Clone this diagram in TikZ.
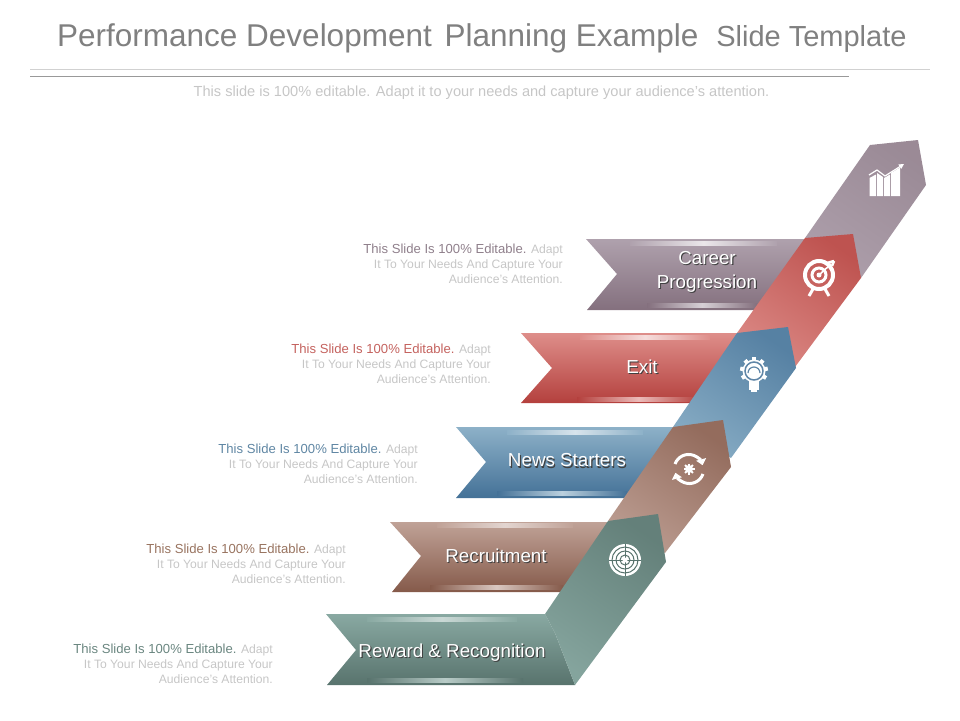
\documentclass[tikz,border=0pt]{standalone}
\usepackage{fontspec}
\setmainfont{Liberation Sans}
\usetikzlibrary{arrows.meta}
\definecolor{titlegray}{HTML}{808080}
\definecolor{paletext}{HTML}{C6C6C6}
\definecolor{mauvetop}{HTML}{AFA1AD}\definecolor{mauvelow}{HTML}{84707E}\definecolor{mauvehead}{HTML}{94838F}\definecolor{mauvetxt}{HTML}{8F7F8B}
\definecolor{redtop}{HTML}{DE8E8A}\definecolor{redlow}{HTML}{B4403D}\definecolor{redtxt}{HTML}{C4625E}
\definecolor{bluetop}{HTML}{8DB1C8}\definecolor{bluelow}{HTML}{447197}\definecolor{bluetxt}{HTML}{5F86A3}
\definecolor{browntop}{HTML}{C0A297}\definecolor{brownlow}{HTML}{855A4A}\definecolor{browntxt}{HTML}{98735F}
\definecolor{greentop}{HTML}{89A9A2}\definecolor{greenlow}{HTML}{58736D}\definecolor{greentxt}{HTML}{6A8680}
\newcommand{\shadowed}[1]{\leavevmode\rlap{\kern1.1pt\raisebox{-1.1pt}{\color{black!75}#1}}#1}
\newcommand{\sidetext}[1]{{\fontsize{13.1}{15}\selectfont\color{#1}This Slide Is 100\% Editable.} Adapt\\It To Your Needs And Capture Your\\Audience's Attention.}
\begin{document}
\begin{tikzpicture}[x=1pt,y=-1pt,
  sidenote/.style={anchor=east,align=right,text=paletext,inner sep=0pt,font=\fontsize{12.15}{15}\selectfont},
  barlabel/.style={align=center,text=white,inner sep=0pt,font=\fontsize{18.8}{24}\selectfont},
  flat/.style n args={2}{top color=#1,bottom color=#2},
  band/.style n args={2}{top color=#2!75!#1,bottom color=#1!90!#2,shading angle=-35},
  gleam/.style n args={2}{left color=#1,right color=#1,middle color=#2},
  iconline/.style={draw=white,line width=3pt}]
\useasboundingbox (0,0) rectangle (960,720);
\node (title) [anchor=base west,text=titlegray,inner sep=0pt,font=\fontsize{31.5}{36}\selectfont] at (57,46.5)
  {Performance Development\hspace{4pt} Planning Example\hspace{9pt} {\fontsize{29}{36}\selectfont Slide Template}};
\draw[draw=black!18] (30,69) -- (930,69);
\draw[draw=black!40] (30,76) -- (849,76);
\node (subtitle) [text=paletext,inner sep=0pt,font=\fontsize{14.6}{16}\selectfont] at (481.5,93)
  {This slide is 100\% editable. Adapt it to your needs and capture your audience's attention.};

\node (careernote) [sidenote] at (563,264) {\sidetext{mauvetxt}};
\node (exitnote) [sidenote] at (491,364) {\sidetext{redtxt}};
\node (newsnote) [sidenote] at (418,464) {\sidetext{bluetxt}};
\node (recruitnote) [sidenote] at (346,564) {\sidetext{browntxt}};
\node (rewardnote) [sidenote] at (273,664) {\sidetext{greentxt}};

\shade[flat={mauvetop}{mauvelow}] (586,239) -- (808,239) -- (760,310) -- (587,310) -- (617,274) -- cycle;
\shade[gleam={mauvetop}{white!75!mauvetop}] (630,241) rectangle (777,245);
\shade[gleam={mauvelow}{white!50!mauvetop}] (647,303) rectangle (757,307);
\shade[band={mauvetop}{mauvehead}] (805,238) -- (870,145) -- (918,140) -- (926,185) -- (861,278) -- cycle;

\shade[flat={redtop}{redlow}] (521,333) -- (740,333) -- (693,403) -- (521,403) -- (552,368) -- cycle;
\shade[gleam={redtop}{white!70!redtop}] (580,335) rectangle (710,339);
\shade[gleam={redlow}{white!40!redtop}] (577,397) rectangle (700,401);
\shade[band={redtop}{redlow}] (737,333) -- (805,238) -- (853,234) -- (861,278) -- (795,367) -- cycle;

\shade[flat={bluetop}{bluelow}] (456,427) -- (676,427) -- (630,498) -- (456,498) -- (486,462) -- cycle;
\shade[gleam={bluetop}{white!65!bluetop}] (507,430) rectangle (643,434);
\shade[gleam={bluelow}{white!40!bluetop}] (497,491) rectangle (627,495);
\shade[band={bluetop}{bluelow}] (673,427) -- (737,333) -- (788,327) -- (796,368) -- (731,458) -- cycle;

\shade[flat={browntop}{brownlow}] (390,522) -- (611,522) -- (566,592) -- (392,592) -- (421,556) -- cycle;
\shade[gleam={browntop}{white!55!browntop}] (437,523) rectangle (573,527);
\shade[gleam={brownlow}{white!40!browntop}] (430,585) rectangle (563,589);
\shade[band={browntop}{brownlow}] (608,521) -- (673,427) -- (723,420) -- (731,467) -- (665,553) -- cycle;

\shade[flat={greentop}{greenlow}] (326,614) -- (545,614) -- (555,633) -- (575,685) -- (327,685) -- (356,650) -- cycle;
\shade[gleam={greentop}{white!55!greentop}] (367,617) rectangle (517,621);
\shade[gleam={greenlow}{white!40!greentop}] (367,678) rectangle (523,682);
\shade[band={greentop}{greenlow}] (545,614) -- (608,521) -- (658,514) -- (666,562) -- (575,685) -- (555,633) -- cycle;

\node (career) [barlabel] at (707,272) {\shadowed{Career}\\\shadowed{Progression}};
\node (exit) [barlabel] at (642,367) {\shadowed{Exit}};
\node (news) [barlabel] at (567,461) {\shadowed{News Starters}};
\node (recruit) [barlabel] at (496,556) {\shadowed{Recruitment}};
\node (reward) [barlabel] at (452,653) {\shadowed{Reward \& Recognition}};

\fill[white] (869.5,196) -- (869.5,178) -- (876,174.5) -- (876,196) -- cycle;
\fill[white] (877,196) -- (877,173) -- (883,177) -- (883,196) -- cycle;
\fill[white] (884,196) -- (884,178) -- (890,174.5) -- (890,196) -- cycle;
\fill[white] (891,196) -- (891,173) -- (900,167.5) -- (900,196) -- cycle;
\draw[draw=white,line width=1.2pt,-{Triangle[length=5pt,width=5pt]}] (869,175) -- (877,170) -- (885,176) -- (904,164);

\draw[iconline,line width=4pt] (819,275) circle[radius=14pt];
\draw[draw=white,line width=3pt] (819,275) circle[radius=7pt];
\fill[white] (819,275) circle[radius=2.5pt];
\draw[draw=white,line width=1.6pt] (819,275) -- (831,264);
\draw[draw=white,line width=2.5pt] (827,263) -- (834,261) (832,266) -- (834,261);
\draw[iconline] (813,289) -- (809,296) (825,289) -- (829,296);

\foreach \toothangle in {170,130,90,50,10,-30,-150} {
  \draw[draw=white,line width=4pt] (754,371) -- ++(\toothangle:14pt);
}
\fill[white] (754,371) circle[radius=11.5pt];
\draw[draw=bluelow!85!white,line width=1.5pt] (754,371) circle[radius=9pt];
\draw[draw=bluelow!85!white,line width=1.2pt] (748,373) arc[start angle=180,end angle=0,radius=6pt];
\fill[white] (749,381) rectangle (759,390);
\fill[white] (751,390) rectangle (757,392);

\draw[draw=white,line width=3pt,-{Triangle[length=6pt,width=10pt]}] (675,464) arc[start angle=160,end angle=15,radius=14.5pt];
\draw[draw=white,line width=3pt,-{Triangle[length=6pt,width=10pt]}] (703,474) arc[start angle=-20,end angle=-165,radius=14.5pt];
\foreach \toothangle in {0,45,...,135} {
  \draw[draw=white,line width=2pt] (689,469) ++(\toothangle:5.5pt) -- ++(\toothangle+180:11pt);
}
\fill[white] (689,469) circle[radius=4pt];

\fill[white] (625,560) circle[radius=16pt];
\draw[draw=greenlow,line width=1pt] (625,560) circle[radius=13pt];
\draw[draw=greenlow,line width=1pt] (625,560) circle[radius=9pt];
\draw[draw=greenlow,line width=1pt] (625,560) circle[radius=5pt];
\draw[draw=greenlow,line width=.6pt] (609,560) -- (641,560) (625,544) -- (625,576);
\fill[white] (625,560) circle[radius=2.5pt];
\end{tikzpicture}
\end{document}
